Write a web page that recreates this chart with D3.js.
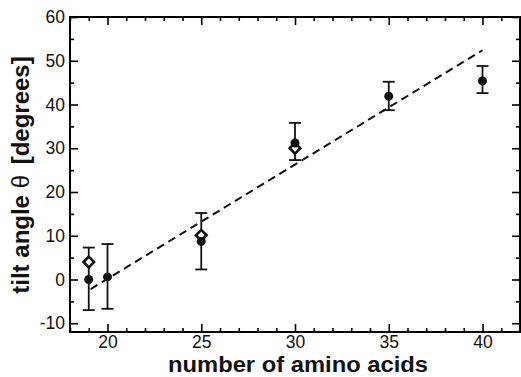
<!DOCTYPE html>
<html>
<head>
<meta charset="utf-8">
<script src="https://cdn.jsdelivr.net/npm/d3@7"></script>
<style>
  body { margin: 0; background: #fff; }
  text { font-family: "Liberation Sans", Arial, Helvetica, sans-serif; }
</style>
</head>
<body>
<script>
(function () {

// data
var sizes     = [19, 20, 25, 30, 35, 40];
var tiltMean  = [0, 0.6, 8.7, 31.2, 41.9, 45.4];
var errLow    = [-7.0, -6.7, 2.3, 27.3, 38.7, 42.6];
var errHigh   = [7.3, 8.1, 15.2, 35.8, 45.2, 48.8];

var diamondSizes = [19, 25, 30];
var diamondTilt  = [4.0, 10.1, 30.0];

// dashed fit line end points
var fitX = [19.1, 40];
var fitY = [-2.2, 52.4];

var xTicks = [20, 25, 30, 35, 40];
var yTicks = [-10, 0, 10, 20, 30, 40, 50, 60];

// dimensions
var width = 521;
var height = 377;

var svg = d3.select("body")
  .append("svg")
    .attr("width", width)
    .attr("height", height);

var x = d3.scaleLinear().domain([18, 42]).range([70, 520]);
var y = d3.scaleLinear().domain([-12, 60]).range([332, 17]);

var fmt = function (d) { return String(d); };

// minor ticks
var xMinor = d3.range(18, 43, 1).filter(function (d) { return xTicks.indexOf(d) < 0; });
var yMinor = d3.range(-10, 61, 5).filter(function (d) { return yTicks.indexOf(d) < 0; });

function styleAxis(g) {
  g.select(".domain").remove();
  g.selectAll(".tick line").attr("stroke", "#000").attr("stroke-width", 1.6);
  g.selectAll(".tick text")
    .attr("fill", "#111")
    .style("font-size", "17.5px");
}

// bottom
svg.append("g")
  .attr("transform", "translate(0," + y.range()[0] + ")")
  .call(d3.axisBottom(x).tickValues(xTicks).tickFormat(fmt).tickSize(-8).tickPadding(4))
  .call(styleAxis);
svg.append("g")
  .attr("transform", "translate(0," + y.range()[0] + ")")
  .call(d3.axisBottom(x).tickValues(xMinor).tickFormat("").tickSize(-4))
  .call(styleAxis);

// top
svg.append("g")
  .attr("transform", "translate(0," + y.range()[1] + ")")
  .call(d3.axisTop(x).tickValues(xTicks).tickFormat("").tickSize(-8))
  .call(styleAxis);
svg.append("g")
  .attr("transform", "translate(0," + y.range()[1] + ")")
  .call(d3.axisTop(x).tickValues(xMinor).tickFormat("").tickSize(-4))
  .call(styleAxis);

// left
svg.append("g")
  .attr("transform", "translate(" + x.range()[0] + ",0)")
  .call(d3.axisLeft(y).tickValues(yTicks).tickFormat(fmt).tickSize(-8).tickPadding(5))
  .call(styleAxis);
svg.append("g")
  .attr("transform", "translate(" + x.range()[0] + ",0)")
  .call(d3.axisLeft(y).tickValues(yMinor).tickFormat("").tickSize(-4))
  .call(styleAxis);

// right
svg.append("g")
  .attr("transform", "translate(" + x.range()[1] + ",0)")
  .call(d3.axisRight(y).tickValues(yTicks).tickFormat("").tickSize(-8))
  .call(styleAxis);
svg.append("g")
  .attr("transform", "translate(" + x.range()[1] + ",0)")
  .call(d3.axisRight(y).tickValues(yMinor).tickFormat("").tickSize(-4))
  .call(styleAxis);

// frame
svg.append("rect")
  .attr("x", x.range()[0])
  .attr("y", y.range()[1])
  .attr("width", x.range()[1] - x.range()[0])
  .attr("height", y.range()[0] - y.range()[1])
  .attr("fill", "none")
  .attr("stroke", "#000")
  .attr("stroke-width", 2);

// fit line
var fitData = fitX.map(function (d, i) { return [d, fitY[i]]; });
svg.append("path")
  .datum(fitData)
  .attr("d", d3.line().x(function (d) { return x(d[0]); }).y(function (d) { return y(d[1]); }))
  .attr("fill", "none")
  .attr("stroke", "#111")
  .attr("stroke-width", 2)
  .attr("stroke-dasharray", "8,5");

var points = sizes.map(function (d, i) {
  return { n: d, t: tiltMean[i], lo: errLow[i], hi: errHigh[i] };
});

// error bars
var bars = svg.selectAll(".err")
  .data(points)
  .enter()
  .append("g")
  .attr("class", "err")
  .attr("stroke", "#111")
  .attr("stroke-width", 1.8);

bars.append("line")
  .attr("x1", function (d) { return x(d.n); })
  .attr("x2", function (d) { return x(d.n); })
  .attr("y1", function (d) { return y(d.lo); })
  .attr("y2", function (d) { return y(d.hi); });
bars.append("line")
  .attr("x1", function (d) { return x(d.n) - 6; })
  .attr("x2", function (d) { return x(d.n) + 6; })
  .attr("y1", function (d) { return y(d.hi); })
  .attr("y2", function (d) { return y(d.hi); });
bars.append("line")
  .attr("x1", function (d) { return x(d.n) - 6; })
  .attr("x2", function (d) { return x(d.n) + 6; })
  .attr("y1", function (d) { return y(d.lo); })
  .attr("y2", function (d) { return y(d.lo); });

// open diamonds
var diamonds = diamondSizes.map(function (d, i) { return { n: d, t: diamondTilt[i] }; });
svg.selectAll(".diamond")
  .data(diamonds)
  .enter()
  .append("path")
  .attr("class", "diamond")
  .attr("d", d3.symbol().type(d3.symbolSquare).size(56))
  .attr("transform", function (d) {
    return "translate(" + x(d.n) + "," + y(d.t) + ") rotate(45)";
  })
  .attr("fill", "#fff")
  .attr("stroke", "#111")
  .attr("stroke-width", 2.6);

// filled circles
svg.selectAll(".dot")
  .data(points)
  .enter()
  .append("circle")
  .attr("class", "dot")
  .attr("cx", function (d) { return x(d.n); })
  .attr("cy", function (d) { return y(d.t); })
  .attr("r", 4.5)
  .attr("fill", "#111");

// axis titles
svg.append("text")
  .attr("x", 298)
  .attr("y", 372.3)
  .attr("text-anchor", "middle")
  .attr("textLength", 260)
  .attr("lengthAdjust", "spacingAndGlyphs")
  .style("font-size", "22px")
  .style("font-weight", "bold")
  .attr("fill", "#111")
  .text("number of amino acids");

var yl = svg.append("text")
  .attr("transform", "translate(29,175) rotate(-90)")
  .attr("text-anchor", "middle")
  .style("font-size", "24px")
  .style("font-weight", "bold")
  .attr("fill", "#111");
yl.append("tspan").text("tilt angle ");
yl.append("tspan").style("font-weight", "normal").text("θ");
yl.append("tspan").attr("dx", 4).text(" [degrees]");

}());
</script>
</body>
</html>
